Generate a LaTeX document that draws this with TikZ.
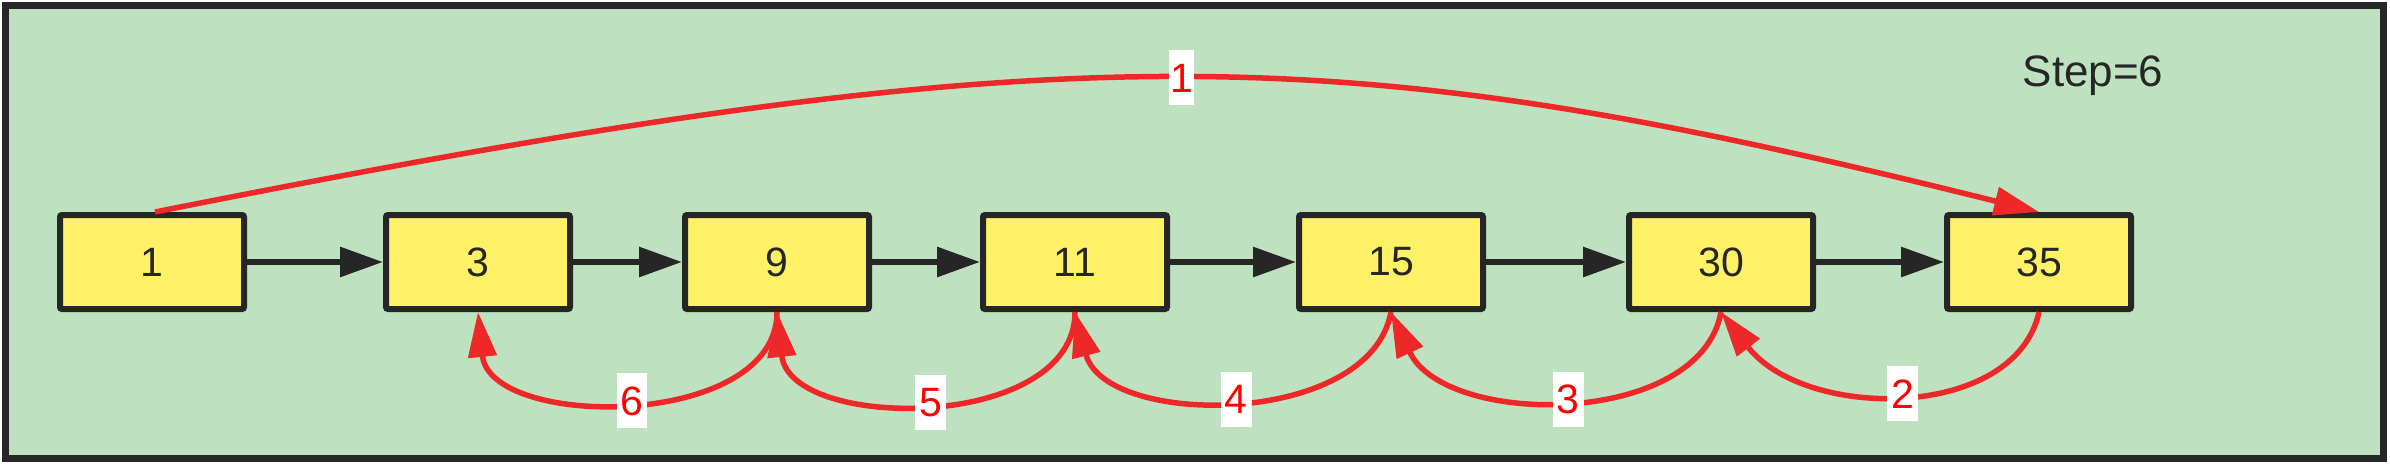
\documentclass[tikz,border=0pt]{standalone}
\usepackage{fontspec}
\setmainfont{Liberation Sans}
\usetikzlibrary{arrows.meta}
\definecolor{bggreen}{RGB}{190,226,191}
\definecolor{boxyellow}{RGB}{255,241,102}
\definecolor{darkline}{RGB}{38,38,38}
\definecolor{redline}{RGB}{238,40,40}
\definecolor{redtext}{RGB}{255,0,0}
\tikzset{
  listbox/.style={draw=darkline, fill=boxyellow, line width=6pt, rounded corners=2pt,
    minimum width=184pt, minimum height=94pt, inner sep=0pt, text=darkline,
    font=\fontsize{41}{48}\selectfont},
  nextarrow/.style={draw=darkline, line width=6pt, -{Triangle[length=43pt,width=29pt]}},
  jumparrow/.style={draw=redline, line width=5.5pt, -{Triangle[length=45pt,width=28pt]}},
  steplabel/.style={fill=white, text=redtext, inner xsep=4pt, inner ysep=0pt,
    text height=42pt, text depth=13pt, font=\fontsize{41}{48}\selectfont}
}
\begin{document}
\begin{tikzpicture}[x=1pt,y=-1pt]
\useasboundingbox (0,0) rectangle (2390,468);
\fill[white] (0,0) rectangle (2390,468);
\draw[draw=darkline, fill=bggreen, line width=7pt] (5,5.5) rectangle (2383,458);

\node[listbox] (b1)  at (152,262)  {1};
\node[listbox] (b3)  at (478,262)  {3};
\node[listbox] (b9)  at (777,262)  {9};
\node[listbox] (b11) at (1075,262) {11};
\node[listbox] (b15) at (1391,262) {15};
\node[listbox] (b30) at (1721,262) {30};
\node[listbox] (b35) at (2039,262) {35};

\node[anchor=base, text=darkline, font=\fontsize{44}{52}\selectfont] (step) at (2093,87) {Step=6};

\draw[nextarrow] (b1) -- (b3);
\draw[nextarrow] (b3) -- (b9);
\draw[nextarrow] (b9) -- (b11);
\draw[nextarrow] (b11) -- (b15);
\draw[nextarrow] (b15) -- (b30);
\draw[nextarrow] (b30) -- (b35);

\draw[jumparrow] ([xshift=3pt]b1.north) .. controls (1080,28) and (1340,38) .. (b35.north)
  node[pos=0.5, steplabel, inner xsep=1pt] (l1) {1};

\draw[jumparrow] (b35.south) .. controls (2015,421) and (1805,421) .. (b30.south)
  node[pos=0.5, steplabel] (l2) {2};
\draw[jumparrow] (b30.south) .. controls (1700,428) and (1445,428) .. (b15.south)
  node[pos=0.5, steplabel] (l3) {3};
\draw[jumparrow] (b15.south) .. controls (1370,428) and (1105,428) .. (b11.south)
  node[pos=0.5, steplabel] (l4) {4};
\draw[jumparrow] (b11.south) .. controls (1075,432) and (790,432) .. (b9.south)
  node[pos=0.5, steplabel] (l5) {5};
\draw[jumparrow] (b9.south) .. controls (777,430) and (490,430) .. (b3.south)
  node[pos=0.5, steplabel] (l6) {6};
\end{tikzpicture}
\end{document}
